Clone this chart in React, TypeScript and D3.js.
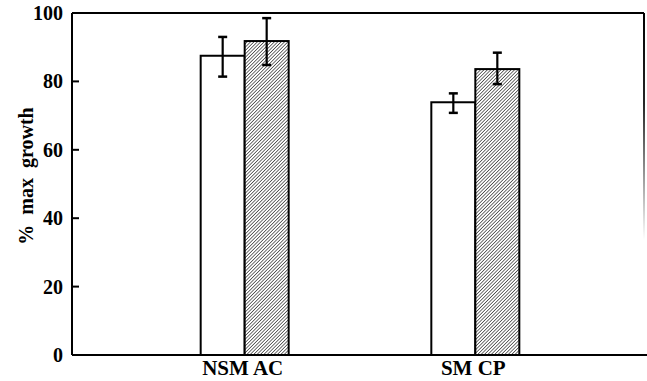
import React, { useEffect, useRef } from 'react';
import * as d3 from 'd3';

const categories = ['NSM AC', 'SM CP'];
const series = ['control', 'treated'];
const means = [
  [87.5, 91.8],
  [73.9, 83.6],
];
const errLow = [
  [81.4, 84.8],
  [70.8, 79.2],
];
const errHigh = [
  [93.0, 98.5],
  [76.5, 88.4],
];
const yTicks = [0, 20, 40, 60, 80, 100];

const W = 647;
const H = 381;

const App = () => {
  const svgRef = useRef<SVGSVGElement>(null);

  useEffect(() => {
    const svg = d3.select(svgRef.current);
    svg.selectAll('*').remove();

    const left = 72;
    const right = 644;
    const top = 13;
    const bottom = 355;
    const font = '"Liberation Serif", "DejaVu Serif", serif';

    const y = d3.scaleLinear().domain([0, 100]).range([bottom, top]);
    const xGroup = d3.scalePoint().domain(categories).range([74, 646]).padding(0.74);
    const barW = 44;
    const xInner = d3
      .scaleBand()
      .domain(series)
      .range([-barW, barW]);

    const defs = svg.append('defs');
    const ps = 2.4;
    const pat = defs
      .append('pattern')
      .attr('id', 'hatch')
      .attr('patternUnits', 'userSpaceOnUse')
      .attr('width', ps)
      .attr('height', ps)
      .attr('patternTransform', 'rotate(45)');
    pat.append('rect').attr('width', ps).attr('height', ps).attr('fill', '#fff');
    pat
      .append('line')
      .attr('x1', 0)
      .attr('y1', 0)
      .attr('x2', 0)
      .attr('y2', ps)
      .attr('stroke', '#111')
      .attr('stroke-width', 1.2);

    const grad = defs
      .append('linearGradient')
      .attr('id', 'fade')
      .attr('gradientUnits', 'userSpaceOnUse')
      .attr('x1', 0)
      .attr('y1', top)
      .attr('x2', 0)
      .attr('y2', 240);
    grad.append('stop').attr('offset', 0).attr('stop-color', '#000').attr('stop-opacity', 1);
    grad.append('stop').attr('offset', 0.4).attr('stop-color', '#000').attr('stop-opacity', 0.85);
    grad.append('stop').attr('offset', 1).attr('stop-color', '#000').attr('stop-opacity', 0);

    // frame
    svg
      .append('line')
      .attr('x1', left)
      .attr('x2', right)
      .attr('y1', top)
      .attr('y2', top)
      .attr('stroke', '#000')
      .attr('stroke-width', 2);
    svg
      .append('line')
      .attr('x1', right)
      .attr('x2', right)
      .attr('y1', top)
      .attr('y2', 240)
      .attr('stroke', 'url(#fade)')
      .attr('stroke-width', 2);

    // bars
    categories.forEach((c, ci) => {
      const cx = xGroup(c) as number;
      series.forEach((s, si) => {
        const x0 = cx + (xInner(s) as number);
        svg
          .append('rect')
          .attr('x', x0)
          .attr('y', y(means[ci][si]))
          .attr('width', xInner.bandwidth())
          .attr('height', bottom - y(means[ci][si]))
          .attr('fill', si === 0 ? '#fff' : 'url(#hatch)')
          .attr('stroke', '#000')
          .attr('stroke-width', 2);
      });
    });

    // error bars
    categories.forEach((c, ci) => {
      const cx = xGroup(c) as number;
      series.forEach((s, si) => {
        const mx = cx + (xInner(s) as number) + xInner.bandwidth() / 2;
        const g = svg.append('g').attr('stroke', '#000').attr('stroke-width', 2.2);
        g.append('line')
          .attr('x1', mx)
          .attr('x2', mx)
          .attr('y1', y(errLow[ci][si]))
          .attr('y2', y(errHigh[ci][si]));
        [errLow[ci][si], errHigh[ci][si]].forEach((v) => {
          g.append('line')
            .attr('x1', mx - 4.5)
            .attr('x2', mx + 4.5)
            .attr('y1', y(v))
            .attr('y2', y(v))
            .attr('stroke-width', 2.5);
        });
      });
    });

    // axes
    svg
      .append('line')
      .attr('x1', left)
      .attr('x2', left)
      .attr('y1', top)
      .attr('y2', bottom)
      .attr('stroke', '#000')
      .attr('stroke-width', 2);
    svg
      .append('line')
      .attr('x1', left)
      .attr('x2', W)
      .attr('y1', bottom)
      .attr('y2', bottom)
      .attr('stroke', '#000')
      .attr('stroke-width', 2);

    svg
      .selectAll('line.tick')
      .data(yTicks.filter((t) => t > 0 && t < 100))
      .enter()
      .append('line')
      .attr('class', 'tick')
      .attr('x1', left)
      .attr('x2', left + 7)
      .attr('y1', (d) => y(d))
      .attr('y2', (d) => y(d))
      .attr('stroke', '#000')
      .attr('stroke-width', 2);

    svg
      .selectAll('text.ylab')
      .data(yTicks)
      .enter()
      .append('text')
      .attr('class', 'ylab')
      .attr('x', 63)
      .attr('y', (d) => y(d) + 7)
      .attr('text-anchor', 'end')
      .attr('font-family', font)
      .attr('font-weight', 'bold')
      .attr('font-size', 20)
      .text((d) => d);

    svg
      .selectAll('text.xlab')
      .data(categories)
      .enter()
      .append('text')
      .attr('class', 'xlab')
      .attr('x', (d) => (xGroup(d) as number) - 2)
      .attr('y', 375)
      .attr('text-anchor', 'middle')
      .attr('font-family', font)
      .attr('font-weight', 'bold')
      .attr('font-size', 21)
      .text((d) => d);

    svg
      .append('text')
      .attr('transform', `translate(33, 176) rotate(-90)`)
      .attr('text-anchor', 'middle')
      .attr('font-family', font)
      .attr('font-weight', 'bold')
      .attr('font-size', 20)
      .attr('word-spacing', 5)
      .text('% max growth');
  }, []);

  return (
    <svg
      ref={svgRef}
      width={W}
      height={H}
      style={{ position: 'absolute', left: 0, top: 0, background: '#fff' }}
    />
  );
};

export default App;
